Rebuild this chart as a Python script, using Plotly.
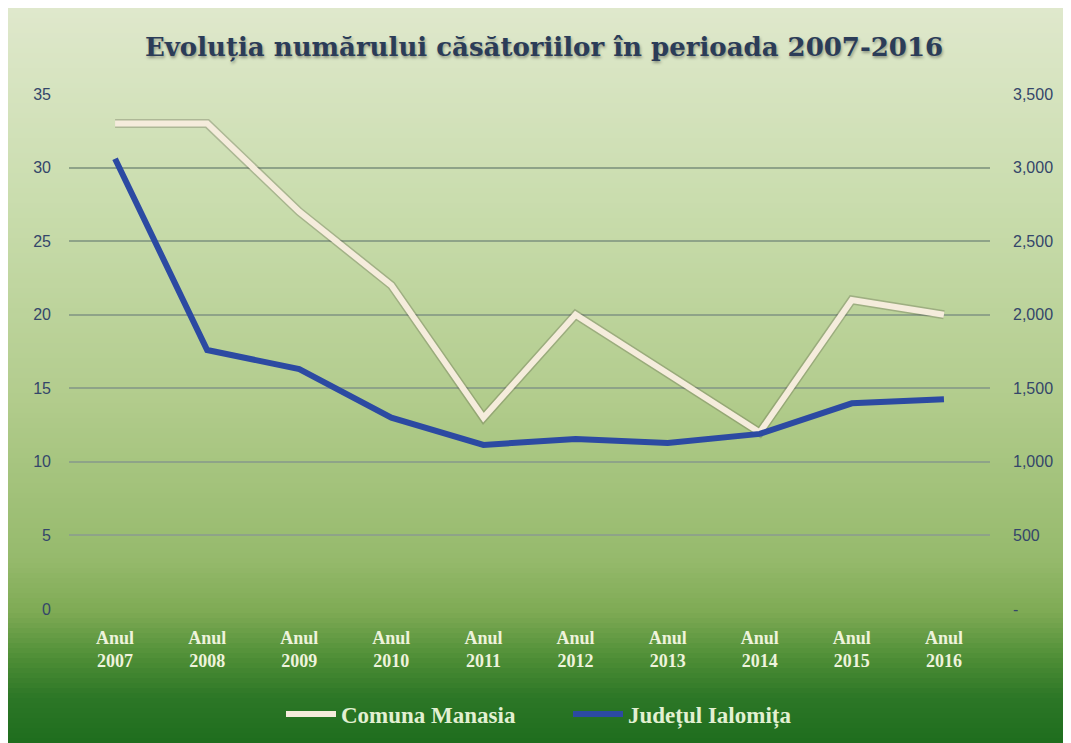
import plotly.graph_objects as go

categories = ["Anul<br>2007", "Anul<br>2008", "Anul<br>2009", "Anul<br>2010", "Anul<br>2011",
              "Anul<br>2012", "Anul<br>2013", "Anul<br>2014", "Anul<br>2015", "Anul<br>2016"]
comuna_manasia = [33, 33, 27, 22, 13, 20, 16, 12, 21, 20]
judetul_ialomita = [3060, 1760, 1630, 1300, 1115, 1156, 1128, 1190, 1398, 1425]

left_ticks = [0, 5, 10, 15, 20, 25, 30, 35]
right_ticks = [0, 500, 1000, 1500, 2000, 2500, 3000, 3500]
right_ticktext = ["-", "500", "1,000", "1,500", "2,000", "2,500", "3,000", "3,500"]

W, H = 1071, 743
L, R, T, B = 61, 89, 86, 142
PW, PH = W - L - R, H - T - B

def px2x(px):
    return (px - L) / PW

def py2y(py):
    return (H - B - py) / PH

# gradient stops (figure pixel y, rgb)
stops = [(0, (223, 232, 204)), (190, (202, 221, 174)), (390, (178, 204, 141)),
         (550, (150, 186, 108)), (605, (126, 170, 84)), (650, (78, 142, 54)),
         (690, (44, 118, 38)), (743, (28, 108, 28))]

def color_at(py):
    for (y0, c0), (y1, c1) in zip(stops[:-1], stops[1:]):
        if y0 <= py <= y1:
            t = (py - y0) / (y1 - y0)
            return tuple(round(a + (b - a) * t) for a, b in zip(c0, c1))
    return stops[-1][1]

shapes = []
step = 5
y = 0
while y < H:
    c = color_at(y + step / 2)
    shapes.append(dict(type="rect", xref="paper", yref="paper",
                       x0=px2x(-2), x1=px2x(W + 2), y0=py2y(y + step + 0.6), y1=py2y(y - 0.1),
                       fillcolor="rgb(%d,%d,%d)" % c, line=dict(width=0), layer="below"))
    y += step

fig = go.Figure()
fig.add_trace(go.Scatter(x=categories, y=comuna_manasia, mode="lines", showlegend=False,
                         line=dict(color="rgba(80,80,60,0.28)", width=9), hoverinfo="skip"))
fig.add_trace(go.Scatter(x=categories, y=comuna_manasia, mode="lines", name="Comuna Manasia",
                         line=dict(color="#f5ecdc", width=6)))
fig.add_trace(go.Scatter(x=categories, y=judetul_ialomita, mode="lines", name="Județul Ialomița",
                         yaxis="y2", line=dict(color="#2c4aa2", width=6)))

fig.update_layout(
    width=W, height=H,
    margin=dict(l=L, r=R, t=T, b=B),
    paper_bgcolor="white",
    plot_bgcolor="rgba(0,0,0,0)",
    shapes=shapes,
    title=dict(text="<b>Evoluția numărului căsătoriilor în perioada 2007-2016</b>",
               x=536 / W, xanchor="center", y=1 - 39 / H, yanchor="middle",
               font=dict(family="DejaVu Serif", size=26, color="#2b3c58",
                         shadow="1px 2px 3px rgba(0,0,0,0.35)")),
    xaxis=dict(range=[-0.5, 9.5], showgrid=False, zeroline=False, showline=False, ticks="",
               tickfont=dict(family="Liberation Serif", size=18, color="#eef3dc", weight="bold"),
               ticklabelstandoff=16, fixedrange=True),
    yaxis=dict(range=[0, 35], tickvals=left_ticks, showgrid=True, gridcolor="#8ea388",
               gridwidth=1.5, zeroline=False, showline=False, ticks="",
               tickfont=dict(family="Liberation Sans", size=16, color="#34466a"),
               ticklabelstandoff=17),
    yaxis2=dict(range=[0, 3500], tickvals=right_ticks, ticktext=right_ticktext,
                overlaying="y", side="right", showgrid=False, zeroline=False, showline=False,
                ticks="", tickfont=dict(family="Liberation Sans", size=16, color="#34466a"),
                ticklabelstandoff=22),
    legend=dict(orientation="h", xref="container", x=273 / W, xanchor="left",
                yref="container", y=1 - 706 / H, yanchor="middle",
                font=dict(family="Liberation Serif", size=23, color="#e2f0d2", weight="bold"),
                bgcolor="rgba(0,0,0,0)", itemwidth=50,
                entrywidth=222, entrywidthmode="pixels"),
)

fig.write_html("out.html")
